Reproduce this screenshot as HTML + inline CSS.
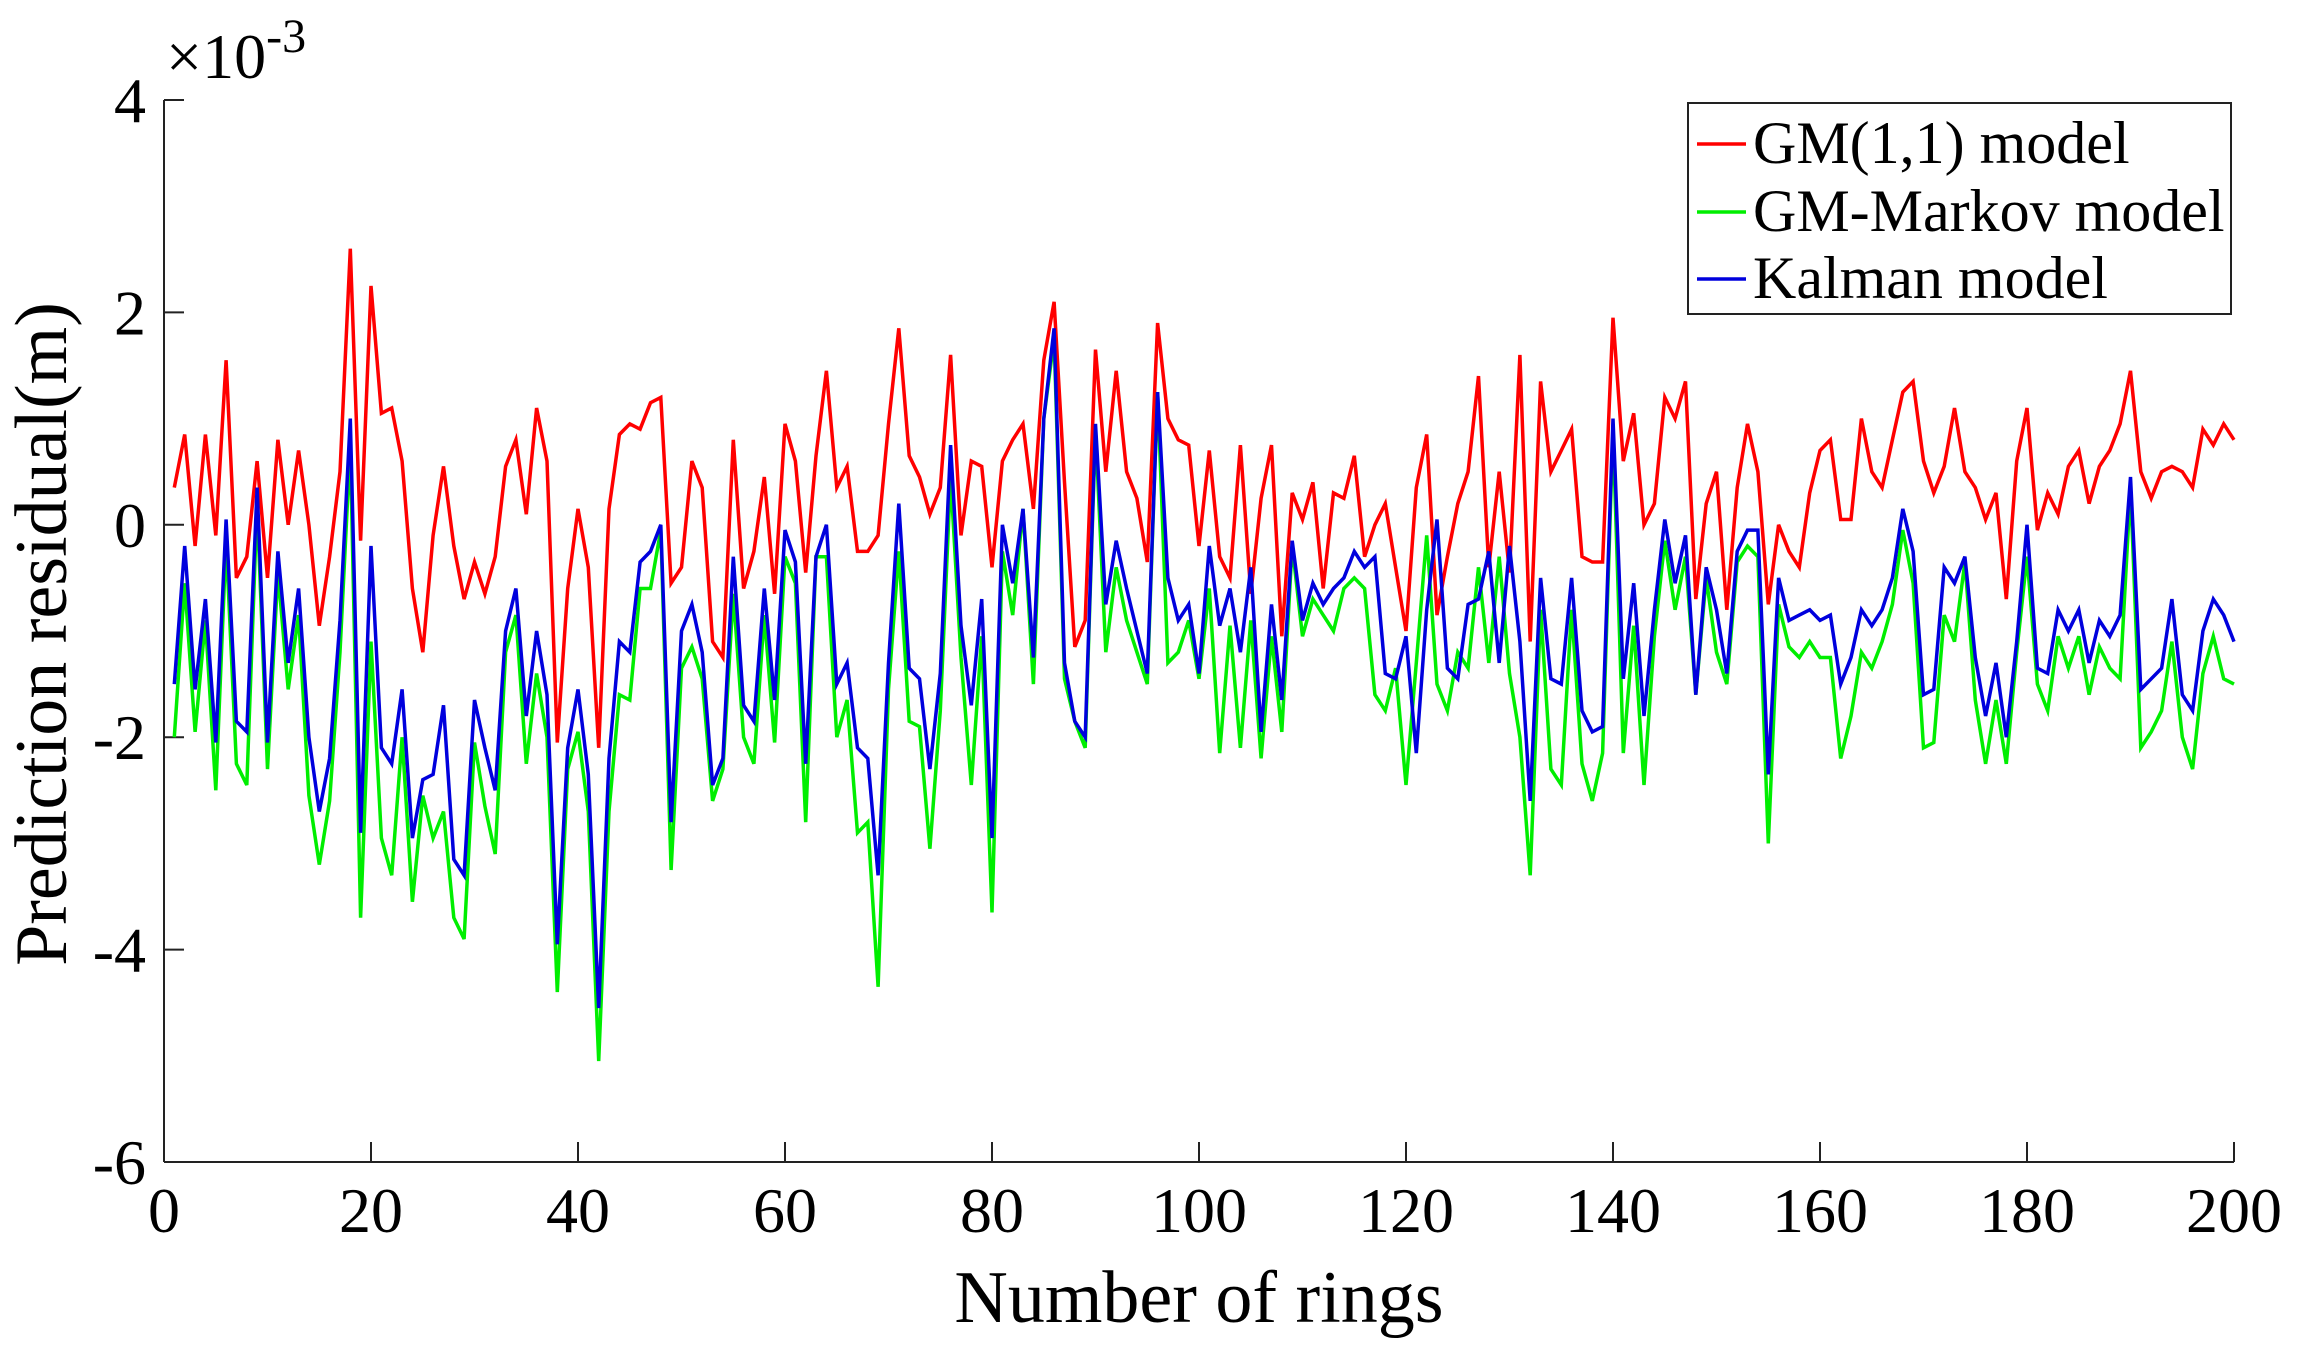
<!DOCTYPE html>
<html><head><meta charset="utf-8"><style>
html,body{margin:0;padding:0;background:#fff;}
svg{display:block;font-family:"Liberation Serif","DejaVu Serif",serif;}
</style></head><body>
<svg id="chart" width="2298" height="1358" viewBox="0 0 2298 1358">
<g id="axes"></g>
<g id="series"></g>
<text x="166" y="78" font-size="64">×10<tspan dy="-26" font-size="48">-3</tspan></text>
<text transform="translate(66,634) rotate(-90)" text-anchor="middle" font-size="74">Prediction residual(m)</text>
<text x="1199" y="1322" text-anchor="middle" font-size="74">Number of rings</text>
<g>
<rect x="1688" y="103" width="543" height="211" fill="#fff" stroke="#222" stroke-width="2"/>
<g><line x1="1697" y1="144" x2="1746" y2="144" stroke="#ff0000" stroke-width="3.5"/><text x="1753" y="163" font-size="60">GM(1,1) model</text></g>
<g><line x1="1697" y1="212" x2="1746" y2="212" stroke="#00ee00" stroke-width="3.5"/><text x="1753" y="231" font-size="60">GM-Markov model</text></g>
<g><line x1="1697" y1="279" x2="1746" y2="279" stroke="#0000dd" stroke-width="3.5"/><text x="1753" y="298" font-size="60">Kalman model</text></g>
</g>
</svg>
<script>
const xTicks=[0,20,40,60,80,100,120,140,160,180,200];
const yTicks=[-6,-4,-2,0,2,4];
const gmValues=[0.35,0.85,-0.2,0.85,-0.1,1.55,-0.5,-0.3,0.6,-0.5,0.8,0.0,0.7,0.0,-0.95,-0.3,0.5,2.6,-0.15,2.25,1.05,1.1,0.6,-0.6,-1.2,-0.1,0.55,-0.2,-0.7,-0.35,-0.65,-0.3,0.55,0.8,0.1,1.1,0.6,-2.05,-0.6,0.15,-0.4,-2.1,0.15,0.85,0.95,0.9,1.15,1.2,-0.55,-0.4,0.6,0.35,-1.1,-1.25,0.8,-0.6,-0.25,0.45,-0.65,0.95,0.6,-0.45,0.65,1.45,0.35,0.55,-0.25,-0.25,-0.1,0.95,1.85,0.65,0.45,0.1,0.35,1.6,-0.1,0.6,0.55,-0.4,0.6,0.8,0.95,0.15,1.55,2.1,0.4,-1.15,-0.9,1.65,0.5,1.45,0.5,0.25,-0.35,1.9,1.0,0.8,0.75,-0.2,0.7,-0.3,-0.5,0.75,-0.65,0.25,0.75,-1.05,0.3,0.05,0.4,-0.6,0.3,0.25,0.65,-0.3,0.0,0.2,-0.4,-1.0,0.35,0.85,-0.85,-0.3,0.2,0.5,1.4,-0.4,0.5,-0.45,1.6,-1.1,1.35,0.5,0.7,0.9,-0.3,-0.35,-0.35,1.95,0.6,1.05,0.0,0.2,1.2,1.0,1.35,-0.7,0.2,0.5,-0.8,0.35,0.95,0.5,-0.75,0.0,-0.25,-0.4,0.3,0.7,0.8,0.05,0.05,1.0,0.5,0.35,0.8,1.25,1.35,0.6,0.3,0.55,1.1,0.5,0.35,0.05,0.3,-0.7,0.6,1.1,-0.05,0.3,0.1,0.55,0.7,0.2,0.55,0.7,0.95,1.45,0.5,0.25,0.5,0.55,0.5,0.35,0.9,0.75,0.95,0.8];
const markovValues=[-2.0,-0.55,-1.95,-0.9,-2.5,-0.15,-2.25,-2.45,0.2,-2.3,-0.45,-1.55,-0.85,-2.55,-3.2,-2.6,-1.2,0.75,-3.7,-1.1,-2.95,-3.3,-2.0,-3.55,-2.55,-2.95,-2.7,-3.7,-3.9,-2.05,-2.65,-3.1,-1.2,-0.85,-2.25,-1.4,-2.0,-4.4,-2.3,-1.95,-2.7,-5.05,-2.7,-1.6,-1.65,-0.6,-0.6,-0.05,-3.25,-1.35,-1.15,-1.45,-2.6,-2.3,-0.65,-2.0,-2.25,-0.85,-2.05,-0.3,-0.55,-2.8,-0.3,-0.3,-2.0,-1.65,-2.9,-2.8,-4.35,-1.55,-0.25,-1.85,-1.9,-3.05,-1.75,0.45,-1.25,-2.45,-1.05,-3.65,-0.25,-0.85,0.15,-1.5,1.0,1.75,-1.45,-1.85,-2.1,0.9,-1.2,-0.4,-0.9,-1.2,-1.5,1.25,-1.3,-1.2,-0.9,-1.45,-0.6,-2.15,-0.95,-2.1,-0.9,-2.2,-1.05,-1.95,-0.2,-1.05,-0.7,-0.85,-1.0,-0.6,-0.5,-0.6,-1.6,-1.75,-1.35,-2.45,-1.3,-0.1,-1.5,-1.75,-1.2,-1.35,-0.4,-1.3,-0.3,-1.4,-2.0,-3.3,-0.8,-2.3,-2.45,-0.8,-2.25,-2.6,-2.15,0.9,-2.15,-0.95,-2.45,-1.05,-0.15,-0.8,-0.3,-1.6,-0.5,-1.2,-1.5,-0.35,-0.2,-0.3,-3.0,-0.75,-1.15,-1.25,-1.1,-1.25,-1.25,-2.2,-1.8,-1.2,-1.35,-1.1,-0.75,-0.05,-0.55,-2.1,-2.05,-0.85,-1.1,-0.35,-1.65,-2.25,-1.65,-2.25,-1.2,-0.3,-1.5,-1.75,-1.05,-1.35,-1.05,-1.6,-1.15,-1.35,-1.45,0.35,-2.1,-1.95,-1.75,-1.1,-2.0,-2.3,-1.4,-1.05,-1.45,-1.5];
const kalmanValues=[-1.5,-0.2,-1.55,-0.7,-2.05,0.05,-1.85,-1.95,0.35,-2.05,-0.25,-1.3,-0.6,-2.0,-2.7,-2.2,-0.9,1.0,-2.9,-0.2,-2.1,-2.25,-1.55,-2.95,-2.4,-2.35,-1.7,-3.15,-3.3,-1.65,-2.1,-2.5,-1.0,-0.6,-1.8,-1.0,-1.6,-3.95,-2.1,-1.55,-2.35,-4.55,-2.2,-1.1,-1.2,-0.35,-0.25,0.0,-2.8,-1.0,-0.75,-1.2,-2.45,-2.2,-0.3,-1.7,-1.85,-0.6,-1.65,-0.05,-0.35,-2.25,-0.3,0.0,-1.5,-1.3,-2.1,-2.2,-3.3,-1.3,0.2,-1.35,-1.45,-2.3,-1.4,0.75,-0.95,-1.7,-0.7,-2.95,0.0,-0.55,0.15,-1.25,1.0,1.85,-1.3,-1.85,-2.0,0.95,-0.75,-0.15,-0.6,-1.0,-1.4,1.25,-0.5,-0.9,-0.75,-1.4,-0.2,-0.95,-0.6,-1.2,-0.4,-1.95,-0.75,-1.65,-0.15,-0.9,-0.55,-0.75,-0.6,-0.5,-0.25,-0.4,-0.3,-1.4,-1.45,-1.05,-2.15,-0.8,0.05,-1.35,-1.45,-0.75,-0.7,-0.25,-1.3,-0.2,-1.1,-2.6,-0.5,-1.45,-1.5,-0.5,-1.75,-1.95,-1.9,1.0,-1.45,-0.55,-1.8,-0.8,0.05,-0.55,-0.1,-1.6,-0.4,-0.8,-1.4,-0.25,-0.05,-0.05,-2.35,-0.5,-0.9,-0.85,-0.8,-0.9,-0.85,-1.5,-1.25,-0.8,-0.95,-0.8,-0.5,0.15,-0.25,-1.6,-1.55,-0.4,-0.55,-0.3,-1.25,-1.8,-1.3,-2.0,-1.1,0.0,-1.35,-1.4,-0.8,-1.0,-0.8,-1.3,-0.9,-1.05,-0.85,0.45,-1.55,-1.45,-1.35,-0.7,-1.6,-1.75,-1.0,-0.7,-0.85,-1.1];

const NS="http://www.w3.org/2000/svg";
const L=164,R=2234,T=100,B=1162;
function xScale(v){return L+(v-0)/(200-0)*(R-L);}
function yScale(v){return B-(v-(-6))/(4-(-6))*(B-T);}
const axes=document.getElementById('axes');
function mk(tag,attrs,parent){const e=document.createElementNS(NS,tag);for(const k in attrs)e.setAttribute(k,attrs[k]);parent.appendChild(e);return e;}
const yl=mk('line',{x1:L,y1:T,x2:L,y2:B,stroke:'#222','stroke-width':2},axes);


const xl=mk('line',{x1:L,y1:B,x2:R,y2:B,stroke:'#222','stroke-width':2},axes);


xTicks.forEach(t=>{
  const x=xScale(t);
  const tk=mk('line',{x1:x,y1:B,x2:x,y2:B-20,stroke:'#222','stroke-width':2},axes);
  
  
  const tx=mk('text',{x:x,y:B+70,'text-anchor':'middle','font-size':64},axes);
  tx.textContent=t;
  
  
});
yTicks.forEach(t=>{
  const y=yScale(t);
  const tk=mk('line',{x1:L,y1:y,x2:L+20,y2:y,stroke:'#222','stroke-width':2},axes);
  
  
  const tx=mk('text',{x:L-18,y:y+22,'text-anchor':'end','font-size':64},axes);
  tx.textContent=t;
  
  
});
const sg=document.getElementById('series');
function draw(vals,color,name){
  const pts=vals.map((v,i)=>xScale(i+1).toFixed(1)+','+yScale(v).toFixed(1)).join(' ');
  const p=mk('polyline',{points:pts,fill:'none',stroke:color,'stroke-width':3.5,'stroke-linejoin':'miter'},sg);
  
  
}
draw(gmValues,'#ff0000','gm-line');
draw(markovValues,'#00ee00','gm-markov-line');
draw(kalmanValues,'#0000dd','kalman-line');
</script>
</body></html>
